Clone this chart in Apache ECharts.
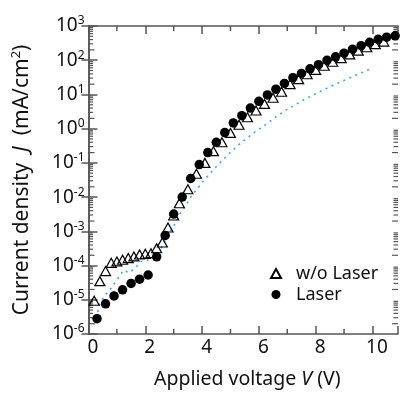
<!DOCTYPE html>
<html>
<head>
<meta charset="utf-8">
<script src="https://cdn.jsdelivr.net/npm/echarts@6/dist/echarts.min.js"></script>
<style>
html,body{margin:0;padding:0;background:#fff;}
#chart{width:401px;height:394px;}
</style>
</head>
<body>
<div id="chart"></div>
<script>
// ---- data ----
var laserV = [0.3,0.6,0.9,1.2,1.5,1.8,2.1,2.4,2.7,3.0,3.3,3.6,3.9,4.2,4.5,4.8,5.1,5.4,5.7,6.0,6.3,6.6,6.9,7.2,7.5,7.8,8.1,8.4,8.7,9.0,9.3,9.6,9.9,10.2,10.5,10.8];
var laserJ = [2.8e-6,7.6e-6,1.3e-5,1.95e-5,3.0e-5,4.0e-5,5.3e-5,1.8e-4,7.6e-4,3.2e-3,1.0e-2,3.5e-2,8.9e-2,0.2,0.40,0.77,1.47,2.4,4.0,6.3,9.7,14.2,21,31,41,56,74,99,126,161,210,266,333,407,473,516];

var noLaserV = [0.2,0.4,0.6,0.8,1.0,1.2,1.4,1.6,1.8,2.0,2.2,2.4,2.6,2.8,3.0,3.2,3.5,3.8,4.1,4.4,4.7,5.0,5.3,5.6,5.9,6.2,6.5,6.8,7.1,7.4,7.7,8.0,8.3,8.6,8.9,9.2,9.5,9.8,10.1,10.4];
var noLaserJ = [9.4e-6,3.5e-5,6.9e-5,1.2e-4,1.32e-4,1.48e-4,1.65e-4,1.85e-4,2.1e-4,2.2e-4,2.3e-4,3.2e-4,4.7e-4,1.29e-3,2.9e-3,6.6e-3,1.7e-2,4.8e-2,0.1,0.22,0.4,0.75,1.3,2.15,3.4,5.3,8.0,12,20,28,39,52,69,90,115,148,190,240,295,350];

var dottedV = [0.2,0.4,0.64,0.82,1.02,1.23,1.43,1.63,1.84,2.04,2.25,2.45,2.62,2.8,3.03,3.22,3.44,3.61,3.82,4.02,4.23,4.43,4.63,5.03,5.42,5.83,6.24,6.62,7.03,7.23,7.61,8.02,8.42,8.8,9.01,9.62,10.0];
var dottedJ = [1.9e-6,7.6e-6,1.57e-5,2.3e-5,4.0e-5,7.3e-5,6.2e-5,8.2e-5,1.3e-4,1.4e-4,1.65e-4,2.2e-4,4.0e-4,8.0e-4,1.6e-3,3.2e-3,6.0e-3,1.03e-2,1.7e-2,2.8e-2,4.4e-2,6.8e-2,0.1,0.215,0.42,0.77,1.31,2.27,3.8,4.7,7.2,10.7,15.5,22,26,43,60];

var xMajorTicks = [0,2,4,6,8,10];
var xMinorTicks = [1,3,5,7,9];
var yDecades = [-6,-5,-4,-3,-2,-1,0,1,2,3];
var seriesNames = ['w/o Laser','Laser'];

// ---- build ----
function pairs(xs, ys){ return xs.map(function(v,i){ return [v, ys[i]]; }); }
var yMinor = [];
yDecades.forEach(function(e){ if (e < 3) for (var k=2;k<=9;k++) yMinor.push([0, k*Math.pow(10,e), k]); });

var FONT = 'Noto Sans';
var AX = '#555';
var chart = echarts.init(document.getElementById('chart'), null, {renderer:'canvas'});

var yLabelFmt = function(v){ var e = Math.round(Math.log10(v)); return '{b|10}{s|' + e + '}'; };

chart.setOption({
  animation:false,
  backgroundColor:'#fff',
  grid:{left:88.5, right:1.5, top:26, bottom:55, containLabel:false},
  legend:{
    data:[{name:seriesNames[0]},{name:seriesNames[1]}],
    orient:'vertical', left:265, top:258, itemWidth:10, itemHeight:9, itemGap:0,
    textStyle:{fontFamily:FONT, fontSize:18, color:'#111', padding:[0,0,0,10], lineHeight:21}
  },
  xAxis:[{
    type:'value', min:0, max:10.9, interval:2, position:'bottom',
    axisLine:{show:true, lineStyle:{color:AX, width:1.5}},
    axisTick:{show:true, inside:true, length:8, lineStyle:{color:AX, width:1.5}},
    axisLabel:{show:true, fontFamily:FONT, fontSize:19, color:'#111', margin:4, padding:[0,0,0,9],
      formatter:function(v){ return xMajorTicks.indexOf(v) >= 0 ? String(v) : ''; }},
    splitLine:{show:false},
    name:'Applied voltage {i|V} (V)', nameLocation:'middle', nameGap:35,
    nameTextStyle:{fontFamily:FONT, fontSize:19.5, color:'#111', padding:[0,0,0,8],
      rich:{i:{fontFamily:FONT, fontSize:19.5, fontStyle:'italic', color:'#111'}}}
  },{
    type:'value', min:0, max:10.9, interval:2, position:'top',
    axisLine:{show:true, lineStyle:{color:AX, width:1.5}},
    axisTick:{show:true, inside:true, length:8, lineStyle:{color:AX, width:1.5}},
    axisLabel:{show:false}, splitLine:{show:false}
  }],
  yAxis:[{
    type:'log', logBase:10, min:1e-6, max:1e3, splitNumber:9, position:'left',
    axisLine:{show:true, lineStyle:{color:AX, width:1.5}},
    axisTick:{show:true, inside:true, length:9, lineStyle:{color:AX, width:1.5}},
    axisLabel:{show:true, margin:4, formatter:yLabelFmt,
      rich:{b:{fontFamily:FONT, fontSize:19, color:'#111', lineHeight:22},
            s:{fontFamily:FONT, fontSize:12, color:'#111', verticalAlign:'top', lineHeight:12}}},
    splitLine:{show:false},
    name:'Current density  {i|J}  (mA/cm{s|2})', nameLocation:'middle', nameGap:54, nameRotate:90,
    nameTextStyle:{fontFamily:FONT, fontSize:21, color:'#111',
      rich:{i:{fontFamily:FONT, fontSize:21, fontStyle:'italic', color:'#111', lineHeight:25},
            s:{fontFamily:FONT, fontSize:13, color:'#111', verticalAlign:'top', lineHeight:13}}}
  },{
    type:'log', logBase:10, min:1e-6, max:1e3, splitNumber:9, position:'right',
    axisLine:{show:true, lineStyle:{color:AX, width:1.5}},
    axisTick:{show:true, inside:true, length:7, lineStyle:{color:AX, width:1.5}},
    axisLabel:{show:false}, splitLine:{show:false}
  }],
  series:[
    {
      name:'minorY', type:'custom', silent:true, xAxisIndex:0, yAxisIndex:0, z:1,
      data:yMinor,
      renderItem:function(params, api){
        var y = api.coord([0, api.value(1)])[1];
        var cs = params.coordSys; var k = api.value(2);
        var L = (k === 2) ? 6 : 4.5;
        return {type:'group', children:[
          {type:'line', shape:{x1:cs.x, y1:y, x2:cs.x+L, y2:y}, style:{stroke:AX, lineWidth:1.2}},
          {type:'line', shape:{x1:cs.x+cs.width, y1:y, x2:cs.x+cs.width-L, y2:y}, style:{stroke:AX, lineWidth:1.2}}
        ]};
      }
    },
    {
      name:'minorX', type:'custom', silent:true, xAxisIndex:0, yAxisIndex:0, z:1,
      data:xMinorTicks.map(function(v){ return [v, 1]; }),
      renderItem:function(params, api){
        var x = api.coord([api.value(0), 1])[0];
        var cs = params.coordSys;
        return {type:'group', children:[
          {type:'line', shape:{x1:x, y1:cs.y+cs.height, x2:x, y2:cs.y+cs.height-5}, style:{stroke:AX, lineWidth:1.5}},
          {type:'line', shape:{x1:x, y1:cs.y, x2:x, y2:cs.y+5}, style:{stroke:AX, lineWidth:1.5}}
        ]};
      }
    },
    {
      name:'dotted', type:'line', xAxisIndex:0, yAxisIndex:0, z:2,
      data:pairs(dottedV, dottedJ), showSymbol:false, symbol:'none', silent:true,
      lineStyle:{color:'#45a0f2', width:1.6, type:[2,4.5]}
    },
    {
      name:seriesNames[0], type:'scatter', xAxisIndex:0, yAxisIndex:0, z:3,
      data:pairs(noLaserV, noLaserJ), symbol:'triangle', symbolSize:[10,9],
      itemStyle:{color:'rgba(255,255,255,0)', borderColor:'#000', borderWidth:1.2, opacity:1}
    },
    {
      name:seriesNames[1], type:'scatter', xAxisIndex:0, yAxisIndex:0, z:4,
      data:pairs(laserV, laserJ), symbol:'circle', symbolSize:9.5,
      itemStyle:{color:'#000', opacity:1}
    }
  ]
});
</script>
</body>
</html>
